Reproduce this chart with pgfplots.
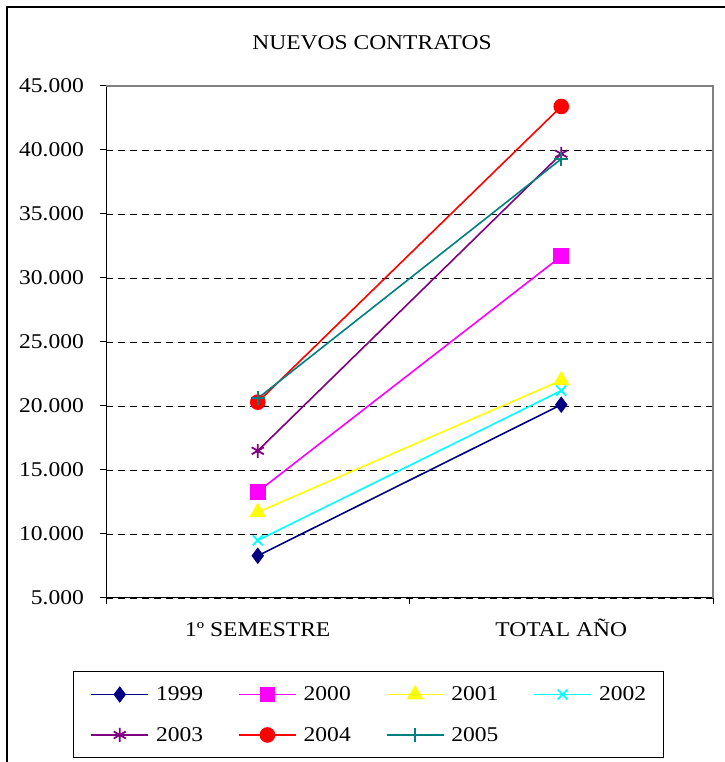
\documentclass[border=0pt]{standalone}
\usepackage{fontspec}
\setmainfont{Liberation Serif}
\usepackage{graphicx}
\usepackage{pgfplots}
\pgfplotsset{compat=1.18}
\definecolor{c1999}{RGB}{0,0,128}
\definecolor{c2000}{RGB}{255,0,255}
\definecolor{c2001}{RGB}{255,255,0}
\definecolor{c2002}{RGB}{0,255,255}
\definecolor{c2003}{RGB}{128,0,128}
\definecolor{c2004}{RGB}{255,0,0}
\definecolor{c2005}{RGB}{0,128,128}
\newcommand\F{\fontsize{21bp}{25bp}\selectfont}
\newcommand\sx[1]{\scalebox{1.12}[1]{#1}}
\begin{document}
\begin{tikzpicture}[x=1bp,y=1bp]
\useasboundingbox (0,0) rectangle (725,762);
\draw[line width=1.5bp] (7,-5) -- (7,755) -- (730,755);
\node[font=\F] at (372,719) {\sx{NUEVOS CONTRATOS}};
\begin{axis}[
  scale only axis, width=607bp, height=512bp,
  at={(106bp,164bp)}, anchor=south west,
  xmin=-0.5, xmax=1.5, ymin=5000, ymax=45000,
  axis x line*=bottom, axis y line*=left,
  axis line style={black, line width=1bp},
  xtick={-0.5,0.5,1.5}, xticklabels={},
  extra x ticks={0,1},
  extra x tick labels={\sx{1º SEMESTRE},\sx{TOTAL AÑO}},
  extra x tick style={major tick length=0pt, tick label style={anchor=base, yshift=-39bp}},
  scaled y ticks=false,
  ytick={5000,10000,15000,20000,25000,30000,35000,40000,45000},
  yticklabels={\sx{5.000},\sx{10.000},\sx{15.000},\sx{20.000},\sx{25.000},\sx{30.000},\sx{35.000},\sx{40.000},\sx{45.000}},
  yticklabel style={anchor=east, inner xsep=0pt, xshift=-16bp},
  tick align=outside, major tick length=6bp, tick style={black, line width=1bp},
  ymajorgrids, grid style={black, dash pattern=on 7bp off 5bp, line width=0.8bp},
  every tick label/.append style={font=\F},
  clip=false,
  legend columns=4,
  legend image code/.code={\draw[line width=1.6bp, mark repeat=2, mark phase=2] plot coordinates {(0bp,0bp) (28.5bp,0bp) (57bp,0bp)};},
  legend style={at={(-0.0544,-0.1426)}, anchor=north west, draw=black, line width=1bp,
    font=\F, inner xsep=17bp, inner ysep=15bp, row sep=25bp,
    nodes={inner sep=0pt},
    /tikz/every odd column/.append style={column sep=7bp},
    /tikz/every even column/.append style={column sep=35bp}},
]
\addplot[color=c1999, line width=1.6bp, mark=diamond*, mark size=7bp, mark options={solid, fill=c1999}] coordinates {(0,8300) (1,20100)};
\addlegendentry{\sx{1999}}
\addplot[color=c2000, line width=1.6bp, mark=square*, mark size=7bp, mark options={solid, fill=c2000}] coordinates {(0,13300) (1,31700)};
\addlegendentry{\sx{2000}}
\addplot[color=c2001, line width=1.6bp, mark=triangle*, mark size=8bp, mark options={solid, fill=c2001}] coordinates {(0,11700) (1,22000)};
\addlegendentry{\sx{2001}}
\addplot[color=c2002, line width=1.6bp, mark=x, mark size=7bp, mark options={solid, line width=1.8bp}] coordinates {(0,9500) (1,21200)};
\addlegendentry{\sx{2002}}
\addplot[color=c2003, line width=1.6bp, mark=asterisk, mark size=7bp, mark options={solid, line width=1.8bp}] coordinates {(0,16500) (1,39700)};
\addlegendentry{\sx{2003}}
\addplot[color=c2004, line width=1.6bp, mark=*, mark size=7bp, mark options={solid, fill=c2004}] coordinates {(0,20300) (1,43400)};
\addlegendentry{\sx{2004}}
\addplot[color=c2005, line width=1.6bp, mark=+, mark size=7bp, mark options={solid, line width=1.8bp}] coordinates {(0,20600) (1,39300)};
\addlegendentry{\sx{2005}}
\draw[color={rgb,255:red,128;green,128;blue,128}, line width=1.5bp] (rel axis cs:0,1) -- (rel axis cs:1,1) -- (rel axis cs:1,0);
\end{axis}
\end{tikzpicture}
\end{document}
